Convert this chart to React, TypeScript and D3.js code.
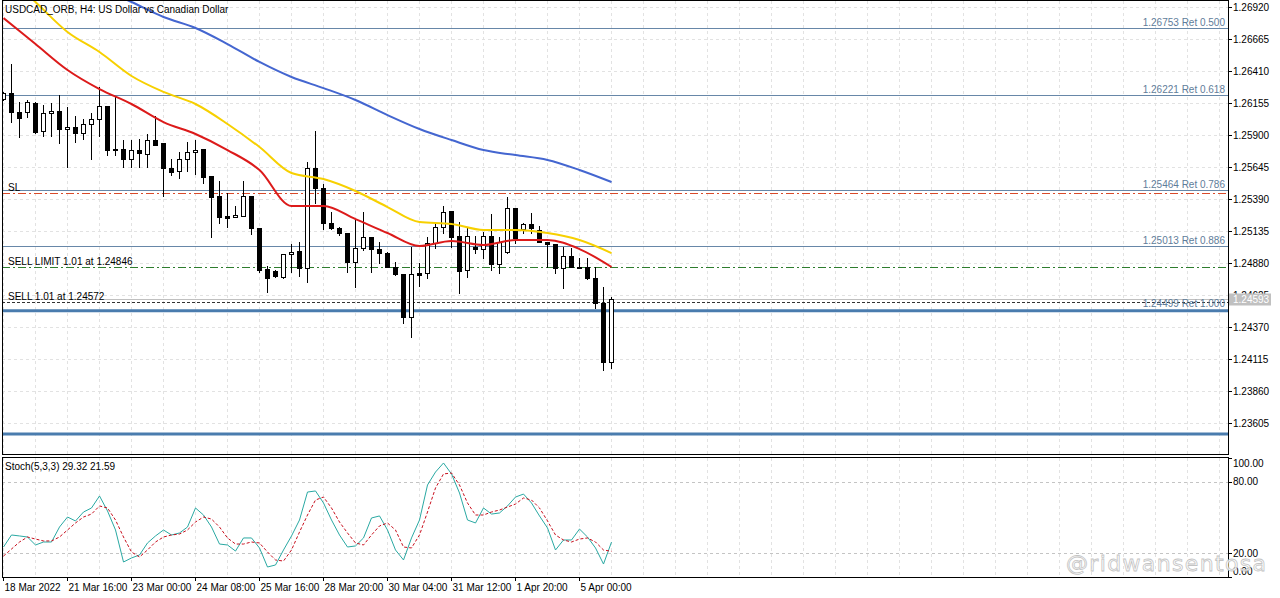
import React from 'react';
import * as d3 from 'd3';

// H4 candles
const opens = [1.26187,1.26235,1.26083,1.26083,1.26155,1.25932,1.26075,1.26091,1.25948,1.25964,
  1.25916,1.25988,1.26027,1.26131,1.25788,1.25788,1.25709,1.25780,1.25748,1.25860,
  1.25836,1.25637,1.25613,1.25709,1.25764,1.25788,1.25573,1.25414,1.25254,1.25246,
  1.25254,1.25414,1.25159,1.24832,1.24816,1.24768,1.24951,1.24975,1.24840,1.25637,
  1.25477,1.25199,1.25159,1.25119,1.24888,1.24999,1.25087,1.24991,1.24959,1.24848,
  1.24792,1.24449,1.24800,1.24800,1.25039,1.25167,1.25294,1.25095,1.24824,1.25007,
  1.24991,1.25095,1.24872,1.24967,1.25318,1.25151,1.25191,1.25143,1.25047,1.25031,
  1.24840,1.24935,1.24848,1.24848,1.24760,1.24561,1.24091];
const highs = [1.26243,1.26466,1.26163,1.26179,1.26163,1.26139,1.26155,1.26219,1.26123,1.26051,
  1.26027,1.26075,1.26282,1.26131,1.26211,1.25860,1.25860,1.25868,1.25908,1.26051,
  1.25836,1.25709,1.25764,1.25844,1.25860,1.25788,1.25573,1.25533,1.25438,1.25334,
  1.25533,1.25414,1.25159,1.24856,1.24824,1.24951,1.25031,1.25047,1.25685,1.25932,
  1.25509,1.25286,1.25167,1.25119,1.25230,1.25286,1.25087,1.25047,1.24967,1.24888,
  1.24792,1.25007,1.24880,1.25087,1.25206,1.25334,1.25294,1.25206,1.25159,1.25095,
  1.25127,1.25270,1.25087,1.25406,1.25318,1.25199,1.25278,1.25175,1.25047,1.25031,
  1.25007,1.24999,1.24920,1.24920,1.24848,1.24688,1.24609];
const lows = [1.26179,1.26003,1.25884,1.26043,1.25916,1.25892,1.25892,1.25836,1.25645,1.25844,
  1.25868,1.25709,1.25892,1.25740,1.25740,1.25645,1.25645,1.25645,1.25645,1.25820,
  1.25414,1.25581,1.25557,1.25613,1.25589,1.25517,1.25087,1.25199,1.25167,1.25246,
  1.25254,1.25111,1.24808,1.24649,1.24768,1.24760,1.24808,1.24776,1.24728,1.25358,
  1.25151,1.25151,1.25103,1.24808,1.24688,1.24983,1.24808,1.24880,1.24848,1.24784,
  1.24402,1.24290,1.24696,1.24760,1.24999,1.25119,1.25007,1.24641,1.24768,1.24959,
  1.24920,1.24824,1.24800,1.24959,1.25039,1.25119,1.25119,1.25047,1.24848,1.24800,
  1.24680,1.24848,1.24840,1.24752,1.24521,1.24027,1.24043];
const closes = [1.26235,1.26083,1.26035,1.26163,1.25924,1.26075,1.26091,1.25948,1.25964,1.25916,
  1.25988,1.26027,1.26131,1.25780,1.25780,1.25709,1.25780,1.25756,1.25860,1.25820,
  1.25637,1.25605,1.25709,1.25764,1.25780,1.25565,1.25406,1.25246,1.25238,1.25262,
  1.25414,1.25159,1.24824,1.24760,1.24776,1.24951,1.24967,1.24840,1.25637,1.25477,
  1.25199,1.25159,1.25119,1.24888,1.24999,1.25087,1.24991,1.24959,1.24848,1.24792,
  1.24449,1.24792,1.24784,1.25039,1.25167,1.25286,1.25087,1.24816,1.25095,1.24991,
  1.25095,1.24872,1.25047,1.25318,1.25079,1.25191,1.25159,1.25047,1.25031,1.24840,
  1.24935,1.24848,1.24840,1.24760,1.24561,1.24091,1.24593];

// moving averages, sampled every 4 bars
const maIndex = [0,4,8,12,16,20,24,28,32,36,40,44,48,52,56,60,64,68,72,76];
const redMA = [1.26832,1.26625,1.26418,1.26266,1.26147,1.26003,1.25908,1.25780,1.25621,1.25334,
  1.25334,1.25230,1.25119,1.25015,1.25055,1.25023,1.25063,1.25063,1.24991,1.24848];
const yellowMA = [1.27199,1.26960,1.26721,1.26561,1.26370,1.26243,1.26147,1.25988,1.25804,1.25597,
  1.25549,1.25454,1.25326,1.25206,1.25191,1.25143,1.25143,1.25119,1.25063,1.24959];
const blueMA = [1.27374,1.27271,1.27167,1.27071,1.26960,1.26840,1.26753,1.26625,1.26482,1.26362,
  1.26274,1.26179,1.26059,1.25948,1.25860,1.25780,1.25740,1.25701,1.25621,1.25525];

// Stoch(5,3,3)
const stochMain = [25.2,35.3,34.5,33.6,26.9,29.4,29.4,42.0,50.4,47.1,
  54.6,58.0,68.1,55.5,39.5,12.6,16.0,18.5,28.6,34.5,
  39.5,35.3,37.0,42.0,58.0,52.1,42.0,27.7,26.9,21.8,
  32.8,32.8,24.4,8.4,10.1,22.7,34.5,47.9,71.4,72.3,
  62.2,47.9,35.3,25.2,26.1,32.8,49.6,51.3,39.5,22.7,
  14.3,32.8,47.9,77.3,88.2,95.8,86.6,70.6,47.9,45.4,
  58.0,52.9,53.8,59.7,67.2,69.7,62.2,51.3,41.2,22.7,
  31.1,31.1,40.3,33.6,24.4,10.9,29.32];
const stochSignal = [17.6,23.5,29.4,33.6,31.9,30.3,30.3,33.6,39.5,45.4,
  50.4,52.9,59.7,58.0,47.9,33.6,21.0,16.8,22.7,29.4,
  33.6,35.3,36.1,39.5,46.2,50.4,48.7,42.0,32.8,27.7,
  27.7,29.4,28.6,21.0,14.3,13.4,22.7,37.8,52.1,64.7,
  67.2,58.0,46.2,37.0,28.6,26.9,35.3,42.9,45.4,39.5,
  25.2,24.4,35.3,54.6,74.8,86.6,87.4,77.3,62.2,52.1,
  52.1,54.6,56.3,58.8,61.3,66.4,64.7,58.0,47.1,35.3,
  31.1,29.4,31.9,32.8,29.4,22.7,21.59];

const priceTicks = ['1.26920','1.26665','1.26410','1.26155','1.25900','1.25645','1.25390',
  '1.25135','1.24880','1.24625','1.24370','1.24115','1.23860','1.23605'];
const timeLabels = ['18 Mar 2022','21 Mar 16:00','23 Mar 00:00','24 Mar 08:00','25 Mar 16:00',
  '28 Mar 20:00','30 Mar 04:00','31 Mar 12:00','1 Apr 20:00','5 Apr 00:00'];
const timeLabelIndex = [0,8,16,24,32,40,48,56,64,72];

const fibLevels = [1.26753,1.26221,1.25464,1.25013];
const fibLabels = ['1.26753 Ret 0.500','1.26221 Ret 0.618','1.25464 Ret 0.786','1.25013 Ret 0.886'];
const baseLevel = 1.24499;
const baseLabel = '1.24499 Ret 1.000';
const lowerLevel = 1.23517;

const slPrice = 1.25438;
const sellLimitPrice = 1.24846;
const sellPrice = 1.24572;
const bidPrice = 1.24593;

const stochTicks = [100, 80, 20, 0];
const stochLevels = [80, 20];

export default function App() {
  const W = 1280, H = 598;
  const left = 2, right = 1228, mainBottom = 454, subTop = 457, subBottom = 577;
  const font = '"Liberation Sans", Arial, sans-serif';

  const x = d3.scaleLinear().domain([0, 76]).range([3, 611]);
  const y = d3.scaleLinear().domain([1.23605, 1.26920]).range([423, 7]);
  const ys = d3.scaleLinear().domain([0, 100]).range([577, 458]);

  const maLine = d3.line<number>()
    .x((_, k) => x(maIndex[k]) + 0.5)
    .y(v => y(v))
    .curve(d3.curveMonotoneX);
  const stLine = d3.line<number>()
    .x((_, i) => x(i) + 0.5)
    .y(v => ys(v));

  const gridX = d3.range(0, 154, 4).map(i => Math.round(x(i)) + 0.5);
  const grid = '#e2e2e2';
  const fibColor = '#6787a8';
  const crisp = (v: number) => Math.round(v) + 0.5;

  return (
    <svg width={W} height={H} style={{ position: 'absolute', left: 0, top: 0, background: '#fff' }}
      fontFamily={font} fontSize={10}>
      <defs>
        <clipPath id="mainClip"><rect x={left + 1} y={1} width={right - left - 1} height={mainBottom - 1} /></clipPath>
        <clipPath id="subClip"><rect x={left + 1} y={subTop + 1} width={right - left - 1} height={subBottom - subTop - 1} /></clipPath>
      </defs>
      <rect x={0} y={0} width={W} height={H} fill="#fff" />

      {/* grid */}
      {gridX.filter(g => g > left && g < right).map((g, k) => (
        <g key={'gx' + k}>
          <line x1={g} x2={g} y1={1} y2={mainBottom} stroke={grid} strokeDasharray="3,3" />
          <line x1={g} x2={g} y1={subTop + 1} y2={subBottom} stroke={grid} strokeDasharray="3,3" />
        </g>
      ))}
      {priceTicks.map(t => (
        <line key={'gy' + t} x1={left} x2={right} y1={crisp(y(+t))} y2={crisp(y(+t))}
          stroke={grid} strokeDasharray="3,3" />
      ))}
      {stochLevels.map(l => (
        <line key={'sl' + l} x1={left} x2={right} y1={crisp(ys(l))} y2={crisp(ys(l))}
          stroke="#c4c4c4" strokeDasharray="3,3" />
      ))}

      <g clipPath="url(#mainClip)">
        {/* fibo lines */}
        {fibLevels.map((f, k) => (
          <g key={'fib' + k}>
            <line x1={left} x2={right} y1={crisp(y(f))} y2={crisp(y(f))} stroke={fibColor} />
            <text x={right - 3} y={crisp(y(f)) - 3} textAnchor="end" fill="#5f7d9a">{fibLabels[k]}</text>
          </g>
        ))}
        <line x1={left} x2={right} y1={y(baseLevel)} y2={y(baseLevel)} stroke="#4a7cae" strokeWidth={3} />
        <line x1={left} x2={right} y1={y(lowerLevel)} y2={y(lowerLevel)} stroke="#4a7cae" strokeWidth={3} />

        {/* order lines */}
        <line x1={left} x2={right} y1={crisp(y(slPrice))} y2={crisp(y(slPrice))} stroke="#d94a2a" strokeDasharray="8,3,2,3" />
        <text x={8} y={crisp(y(slPrice)) - 3} fill="#000">SL</text>
        <line x1={left} x2={right} y1={crisp(y(sellLimitPrice))} y2={crisp(y(sellLimitPrice))} stroke="#2e7d2e" strokeDasharray="8,3,2,3" />
        <text x={8} y={crisp(y(sellLimitPrice)) - 3} fill="#000">SELL LIMIT 1.01 at 1.24846</text>
        <line x1={left} x2={right} y1={crisp(y(bidPrice))} y2={crisp(y(bidPrice))} stroke="#c0c0c0" />
        <line x1={left} x2={right} y1={crisp(y(sellPrice))} y2={crisp(y(sellPrice))} stroke="#333" strokeDasharray="3,2" />
        <text x={8} y={crisp(y(sellPrice)) - 3} fill="#000">SELL 1.01 at 1.24572</text>
        <text x={right - 3} y={crisp(y(baseLevel)) - 5} textAnchor="end" fill="#5f7d9a">{baseLabel}</text>

        {/* candles */}
        {opens.map((o, i) => {
          const cx = Math.round(x(i));
          const c = closes[i];
          const top = Math.round(y(Math.max(o, c)));
          const bot = Math.round(y(Math.min(o, c)));
          const bull = c > o;
          return (
            <g key={'c' + i}>
              <line x1={cx + 0.5} x2={cx + 0.5} y1={Math.round(y(highs[i]))} y2={Math.round(y(lows[i])) + 1} stroke="#000" />
              <rect x={cx - 1.5} y={top + 0.5} width={4} height={Math.max(bot - top, 0.5)}
                fill={bull ? '#fff' : '#000'} stroke="#000" />
            </g>
          );
        })}

        {/* moving averages */}
        <path d={maLine(blueMA) || ''} fill="none" stroke="#4466d0" strokeWidth={2} />
        <path d={maLine(yellowMA) || ''} fill="none" stroke="#f7d000" strokeWidth={2} />
        <path d={maLine(redMA) || ''} fill="none" stroke="#dc1a1a" strokeWidth={2} />
      </g>

      {/* stochastic */}
      <g clipPath="url(#subClip)">
        <path d={stLine(stochMain) || ''} fill="none" stroke="#2aa9a3" strokeWidth={1} />
        <path d={stLine(stochSignal) || ''} fill="none" stroke="#c8101e" strokeWidth={1} strokeDasharray="3,2" />
      </g>

      {/* frames */}
      <rect x={left + 0.5} y={0.5} width={right - left} height={mainBottom} fill="none" stroke="#000" />
      <rect x={left + 0.5} y={subTop + 0.5} width={right - left} height={subBottom - subTop} fill="none" stroke="#000" />

      {/* price axis */}
      {priceTicks.map(t => (
        <g key={'pt' + t}>
          <line x1={right} x2={right + 4} y1={crisp(y(+t))} y2={crisp(y(+t))} stroke="#000" />
          <text x={right + 5} y={crisp(y(+t))} dominantBaseline="central" fill="#000">{t}</text>
        </g>
      ))}
      <rect x={right + 1} y={crisp(y(bidPrice)) - 6} width={42} height={12} fill="#c0c0c0" />
      <text x={right + 5} y={crisp(y(bidPrice))} dominantBaseline="central" fill="#fff">{bidPrice.toFixed(5)}</text>

      {/* stoch axis */}
      {stochTicks.map(t => (
        <g key={'st' + t}>
          <line x1={right} x2={right + 4} y1={crisp(ys(t))} y2={crisp(ys(t))} stroke="#000" />
          <text x={right + 5} y={Math.min(Math.max(ys(t), 463), 571)} dominantBaseline="central" fill="#000">{t.toFixed(2)}</text>
        </g>
      ))}

      {/* time axis */}
      {timeLabelIndex.map((idx, k) => {
        const tx = Math.round(x(idx)) + 0.5;
        return (
          <g key={'tl' + k}>
            <line x1={tx} x2={tx} y1={subBottom} y2={subBottom + 4} stroke="#000" />
            <text x={tx + 1} y={591} fill="#000">{timeLabels[k]}</text>
          </g>
        );
      })}

      {/* labels */}
      <text x={5} y={13} fill="#000">USDCAD_ORB, H4:  US Dollar vs Canadian Dollar</text>
      <text x={5} y={470} fill="#000">Stoch(5,3,3) 29.32 21.59</text>

      <text x={1066} y={571} fontFamily='"DejaVu Sans", sans-serif' fontSize={22} fill="#fff"
        stroke="#bdbdbd" strokeWidth={0.8} textLength={200} opacity={0.9}>@ridwansentosa</text>
    </svg>
  );
}
